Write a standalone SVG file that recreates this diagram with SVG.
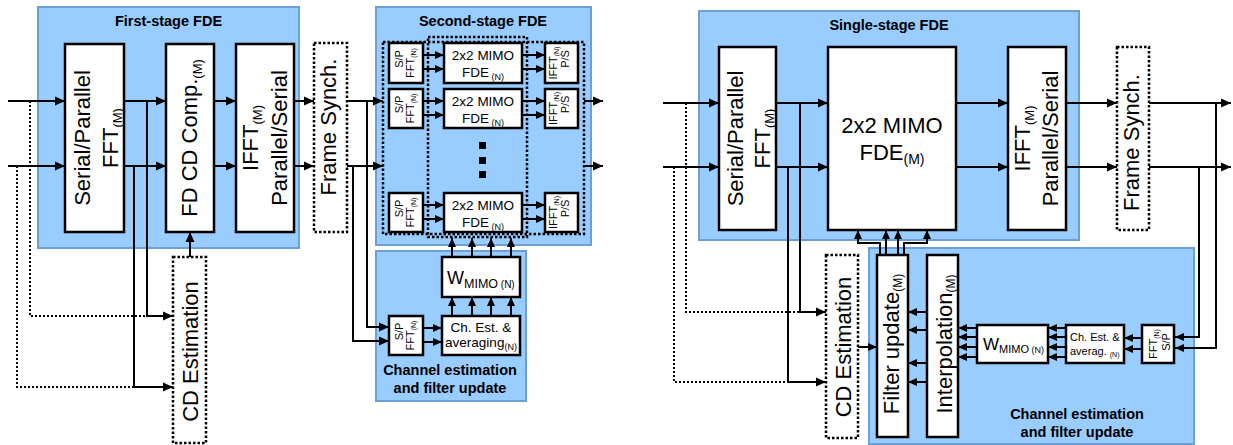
<svg xmlns="http://www.w3.org/2000/svg" width="1233" height="445" viewBox="0 0 1233 445">
<style>
.blue{fill:#99ccff;stroke:#6d9ed6;stroke-width:2}
.box{fill:#fff;stroke:#000;stroke-width:2.5}
.dbox{fill:#fff;stroke:#000;stroke-width:2.5;stroke-dasharray:2.5 2}
.drect{fill:none;stroke:#000;stroke-width:2.5;stroke-dasharray:2.5 2}
.ln{fill:none;stroke:#000;stroke-width:2}
.dl{fill:none;stroke:#000;stroke-width:2;stroke-dasharray:2 2}
.t{font-family:"Liberation Sans",Arial,sans-serif;fill:#000}
.tb{font-family:"Liberation Sans",Arial,sans-serif;font-weight:bold;font-size:14.5px;fill:#000;text-anchor:middle}
.big{font-size:22px;text-anchor:middle}
.sm{font-size:11px;text-anchor:middle}
.md{font-size:13.5px;text-anchor:middle}
</style>
<defs>
<marker id="a" markerWidth="10" markerHeight="10" refX="10" refY="5" orient="auto" markerUnits="userSpaceOnUse"><path d="M0,0.5 L10,5 L0,9.5 z" fill="#000"/></marker>
<marker id="s" markerWidth="9" markerHeight="9" refX="9" refY="4.5" orient="auto" markerUnits="userSpaceOnUse"><path d="M0,0.5 L9,4.5 L0,8.5 z" fill="#000"/></marker>
</defs>

<!-- containers -->
<g id="first-stage-fde">
<rect class="blue" x="38" y="7" width="261" height="241"/>
<text class="tb" x="168.5" y="26">First-stage FDE</text>
</g>
<g id="second-stage-fde">
<rect class="blue" x="376" y="7" width="215" height="238"/>
<text class="tb" x="483" y="26">Second-stage FDE</text>
</g>
<g id="chan-est-left">
<rect class="blue" x="376" y="251" width="150" height="150"/>
<text class="tb" x="450" y="375">Channel estimation</text>
<text class="tb" x="450" y="393">and filter update</text>
</g>
<g id="single-stage-fde">
<rect class="blue" x="699" y="11" width="380" height="229"/>
<text class="tb" x="889" y="30">Single-stage FDE</text>
</g>
<g id="chan-est-right">
<rect class="blue" x="869" y="248" width="325" height="196"/>
<text class="tb" x="1077" y="419">Channel estimation</text>
<text class="tb" x="1077" y="437">and filter update</text>
</g>

<!-- connectors -->
<g id="connectors">
<!-- left figure -->
<path class="dl" d="M30,101 V316 H147"/>
<path class="dl" d="M17,166 V387 H134"/>
<path class="ln" d="M8,101 H65" marker-end="url(#a)"/>
<path class="ln" d="M8,166 H65" marker-end="url(#a)"/>
<path class="ln" d="M124,101 H166" marker-end="url(#a)"/>
<path class="ln" d="M124,166 H166" marker-end="url(#a)"/>
<path class="ln" d="M147,101 V316 H173" marker-end="url(#a)"/>
<path class="ln" d="M134,166 V387 H173" marker-end="url(#a)"/>
<path class="ln" d="M214,101 H236" marker-end="url(#a)"/>
<path class="ln" d="M214,166 H236" marker-end="url(#a)"/>
<path class="ln" d="M294,101 H314" marker-end="url(#a)"/>
<path class="ln" d="M294,166 H314" marker-end="url(#a)"/>
<path class="ln" d="M190,257 V232" marker-end="url(#a)"/>
<path class="ln" d="M347,101 H383" marker-end="url(#a)"/>
<path class="ln" d="M347,166 H383" marker-end="url(#a)"/>
<path class="ln" d="M367,101 V327 H389" marker-end="url(#a)"/>
<path class="ln" d="M353,166 V341 H389" marker-end="url(#a)"/>
<path class="ln" d="M423,55 H444" marker-end="url(#s)"/>
<path class="ln" d="M423,69 H444" marker-end="url(#s)"/>
<path class="ln" d="M423,101 H444" marker-end="url(#s)"/>
<path class="ln" d="M423,115 H444" marker-end="url(#s)"/>
<path class="ln" d="M423,205 H444" marker-end="url(#s)"/>
<path class="ln" d="M423,219 H444" marker-end="url(#s)"/>
<path class="ln" d="M522,55 H545" marker-end="url(#s)"/>
<path class="ln" d="M522,69 H545" marker-end="url(#s)"/>
<path class="ln" d="M522,101 H545" marker-end="url(#s)"/>
<path class="ln" d="M522,115 H545" marker-end="url(#s)"/>
<path class="ln" d="M522,205 H545" marker-end="url(#s)"/>
<path class="ln" d="M522,219 H545" marker-end="url(#s)"/>
<path class="ln" d="M584,101 H603" marker-end="url(#a)"/>
<path class="ln" d="M584,166 H603" marker-end="url(#a)"/>
<path class="ln" d="M452,257 V238" marker-end="url(#s)"/>
<path class="ln" d="M472,257 V238" marker-end="url(#s)"/>
<path class="ln" d="M491,257 V238" marker-end="url(#s)"/>
<path class="ln" d="M511,257 V238" marker-end="url(#s)"/>
<path class="ln" d="M452,316 V297" marker-end="url(#s)"/>
<path class="ln" d="M472,316 V297" marker-end="url(#s)"/>
<path class="ln" d="M491,316 V297" marker-end="url(#s)"/>
<path class="ln" d="M511,316 V297" marker-end="url(#s)"/>
<path class="ln" d="M423,328 H442" marker-end="url(#s)"/>
<path class="ln" d="M423,342 H442" marker-end="url(#s)"/>
<!-- right figure -->
<path class="dl" d="M686,103 V312 H800"/>
<path class="dl" d="M674,167 V382 H788"/>
<path class="ln" d="M663,103 H719" marker-end="url(#a)"/>
<path class="ln" d="M663,167 H719" marker-end="url(#a)"/>
<path class="ln" d="M776,103 H828" marker-end="url(#a)"/>
<path class="ln" d="M776,167 H828" marker-end="url(#a)"/>
<path class="ln" d="M800,103 V312 H826" marker-end="url(#a)"/>
<path class="ln" d="M788,167 V382 H826" marker-end="url(#a)"/>
<path class="ln" d="M956,103 H1008" marker-end="url(#a)"/>
<path class="ln" d="M956,167 H1008" marker-end="url(#a)"/>
<path class="ln" d="M1066,103 H1117" marker-end="url(#a)"/>
<path class="ln" d="M1066,167 H1117" marker-end="url(#a)"/>
<path class="ln" d="M1149,103 H1231" marker-end="url(#a)"/>
<path class="ln" d="M1149,167 H1231" marker-end="url(#a)"/>
<path class="ln" d="M1216,103 V348 H1175" marker-end="url(#s)"/>
<path class="ln" d="M1199,167 V337 H1175" marker-end="url(#s)"/>
<path class="ln" d="M1142,338 H1124" marker-end="url(#s)"/>
<path class="ln" d="M1142,349 H1124" marker-end="url(#s)"/>
<path class="ln" d="M1066,328 H1048" marker-end="url(#s)"/>
<path class="ln" d="M1066,337 H1048" marker-end="url(#s)"/>
<path class="ln" d="M1066,347 H1048" marker-end="url(#s)"/>
<path class="ln" d="M1066,357 H1048" marker-end="url(#s)"/>
<path class="ln" d="M977,328 H958" marker-end="url(#s)"/>
<path class="ln" d="M977,337 H958" marker-end="url(#s)"/>
<path class="ln" d="M977,347 H958" marker-end="url(#s)"/>
<path class="ln" d="M977,357 H958" marker-end="url(#s)"/>
<path class="ln" d="M927,312 H908" marker-end="url(#s)"/>
<path class="ln" d="M927,330 H908" marker-end="url(#s)"/>
<path class="ln" d="M927,363 H908" marker-end="url(#s)"/>
<path class="ln" d="M927,382 H908" marker-end="url(#s)"/>
<path class="ln" d="M858,347 H877" marker-end="url(#s)"/>
<path class="ln" d="M880,255 V243 H858 V230" marker-end="url(#s)"/>
<path class="ln" d="M886,255 V230" marker-end="url(#s)"/>
<path class="ln" d="M898,255 V230" marker-end="url(#s)"/>
<path class="ln" d="M904,255 V243 H927 V230" marker-end="url(#s)"/>
</g>

<!-- left figure nodes -->
<g id="sp-fft-m-left">
<rect class="box" x="65" y="44" width="59" height="188"/>
<text class="t big" transform="translate(94.5,138) rotate(-90)"><tspan x="0" y="-4.5">Serial/Parallel</tspan><tspan x="0" y="23.5">FFT<tspan font-size="13" dy="4">(M)</tspan></tspan></text>
</g>
<g id="fd-cd-comp">
<rect class="box" x="166" y="44" width="48" height="188"/>
<text class="t big" transform="translate(190,138) rotate(-90)" x="0" y="7">FD CD Comp.<tspan font-size="13" dy="5">(M)</tspan></text>
</g>
<g id="ifft-ps-left">
<rect class="box" x="236" y="44" width="58" height="188"/>
<text class="t big" transform="translate(265,138) rotate(-90)"><tspan x="0" y="-7">IFFT<tspan font-size="13" dy="4">(M)</tspan></tspan><tspan x="0" y="22">Parallel/Serial</tspan></text>
</g>
<g id="frame-synch-left">
<rect class="dbox" x="314" y="43" width="33" height="189"/>
<text class="t big" font-size="24" transform="translate(330.5,127) rotate(-90)" x="0" y="5.5">Frame Synch.</text>
</g>
<g id="cd-est-left">
<rect class="dbox" x="173" y="257" width="33" height="186"/>
<text class="t big" transform="translate(189.5,351.5) rotate(-90)" x="0" y="8.5">CD Estimation</text>
</g>

<g id="second-stage-dotted">
<rect class="drect" x="383" y="42" width="201" height="192"/>
<rect class="drect" x="428" y="37" width="99" height="200"/>
</g>
<g id="sp-fft-n-1">
<rect class="box" x="389" y="43" width="34" height="40"/>
<text class="t sm" transform="translate(406,63) rotate(-90)"><tspan x="4" y="-3.5">S/P</tspan><tspan x="0" y="8">FFT<tspan font-size="7" dy="2">(N)</tspan></tspan></text>
</g>
<g id="sp-fft-n-2">
<rect class="box" x="389" y="89" width="34" height="39"/>
<text class="t sm" transform="translate(406,108.5) rotate(-90)"><tspan x="4" y="-3.5">S/P</tspan><tspan x="0" y="8">FFT<tspan font-size="7" dy="2">(N)</tspan></tspan></text>
</g>
<g id="sp-fft-n-3">
<rect class="box" x="389" y="193" width="34" height="39"/>
<text class="t sm" transform="translate(406,212.5) rotate(-90)"><tspan x="4" y="-3.5">S/P</tspan><tspan x="0" y="8">FFT<tspan font-size="7" dy="2">(N)</tspan></tspan></text>
</g>
<g id="mimo-fde-n-1">
<rect class="box" x="444" y="43" width="78" height="40"/>
<text class="t md" x="483" y="60">2x2 MIMO</text>
<text class="t md" x="483" y="77">FDE<tspan font-size="9" dy="3"> (N)</tspan></text>
</g>
<g id="mimo-fde-n-2">
<rect class="box" x="444" y="89" width="78" height="39"/>
<text class="t md" x="483" y="106">2x2 MIMO</text>
<text class="t md" x="483" y="123">FDE<tspan font-size="9" dy="3"> (N)</tspan></text>
</g>
<g id="mimo-fde-n-3">
<rect class="box" x="444" y="193" width="78" height="39"/>
<text class="t md" x="483" y="210">2x2 MIMO</text>
<text class="t md" x="483" y="227">FDE<tspan font-size="9" dy="3"> (N)</tspan></text>
</g>
<g id="ifft-ps-n-1">
<rect class="box" x="545" y="43" width="33" height="40"/>
<text class="t sm" transform="translate(561.5,63) rotate(-90)"><tspan x="0" y="-4.5">IFFT<tspan font-size="7" dy="2">(N)</tspan></tspan><tspan x="4" dy="9.5">P/S</tspan></text>
</g>
<g id="ifft-ps-n-2">
<rect class="box" x="545" y="89" width="33" height="39"/>
<text class="t sm" transform="translate(561.5,108.5) rotate(-90)"><tspan x="0" y="-4.5">IFFT<tspan font-size="7" dy="2">(N)</tspan></tspan><tspan x="4" dy="9.5">P/S</tspan></text>
</g>
<g id="ifft-ps-n-3">
<rect class="box" x="545" y="193" width="33" height="39"/>
<text class="t sm" transform="translate(561.5,212.5) rotate(-90)"><tspan x="0" y="-4.5">IFFT<tspan font-size="7" dy="2">(N)</tspan></tspan><tspan x="4" dy="9.5">P/S</tspan></text>
</g>
<g id="ellipsis">
<rect x="479" y="142" width="7" height="7" fill="#000"/>
<rect x="479" y="157" width="7" height="7" fill="#000"/>
<rect x="479" y="171" width="7" height="7" fill="#000"/>
</g>
<g id="w-mimo-left">
<rect class="box" x="442" y="257" width="78" height="40"/>
<text class="t" x="447" y="284" font-size="18">W<tspan font-size="12.5" dy="4">MIMO</tspan><tspan font-size="10"> (N)</tspan></text>
</g>
<g id="ch-est-left">
<rect class="box" x="442" y="316" width="78" height="39"/>
<text class="t md" x="481" y="332">Ch. Est. &amp;</text>
<text class="t md" x="481" y="347">averaging<tspan font-size="9" dy="3">(N)</tspan></text>
</g>
<g id="sp-fft-n-ce">
<rect class="box" x="389" y="316" width="34" height="39"/>
<text class="t sm" transform="translate(406,335.5) rotate(-90)"><tspan x="4" y="-3.5">S/P</tspan><tspan x="0" y="8">FFT<tspan font-size="7" dy="2">(N)</tspan></tspan></text>
</g>

<!-- right figure nodes -->
<g id="sp-fft-m-right">
<rect class="box" x="719" y="47" width="57" height="183"/>
<text class="t big" transform="translate(747.5,138.5) rotate(-90)"><tspan x="0" y="-4.5">Serial/Parallel</tspan><tspan x="0" y="22.5">FFT<tspan font-size="13" dy="4">(M)</tspan></tspan></text>
</g>
<g id="mimo-fde-m">
<rect class="box" x="828" y="47" width="128" height="183"/>
<text class="t big" x="892" y="133">2x2 MIMO</text>
<text class="t big" x="892" y="160">FDE<tspan font-size="14" dy="4">(M)</tspan></text>
</g>
<g id="ifft-ps-right">
<rect class="box" x="1008" y="47" width="58" height="183"/>
<text class="t big" transform="translate(1037,138.5) rotate(-90)"><tspan x="0" y="-7">IFFT<tspan font-size="13" dy="4">(M)</tspan></tspan><tspan x="0" y="21">Parallel/Serial</tspan></text>
</g>
<g id="frame-synch-right">
<rect class="dbox" x="1117" y="47" width="32" height="183"/>
<text class="t big" font-size="20" transform="translate(1133,142.5) rotate(-90)" x="0" y="6">Frame Synch.</text>
</g>
<g id="cd-est-right">
<rect class="dbox" x="826" y="255" width="32" height="183"/>
<text class="t big" transform="translate(842,347) rotate(-90)" x="0" y="9">CD Estimation</text>
</g>
<g id="filter-update">
<rect class="box" x="877" y="255" width="31" height="182"/>
<text class="t big" transform="translate(892.5,344) rotate(-90)" x="0" y="6.5">Filter update<tspan font-size="12" dy="3">(M)</tspan></text>
</g>
<g id="interpolation">
<rect class="box" x="927" y="255" width="31" height="182"/>
<text class="t big" transform="translate(942.5,344) rotate(-90)" x="0" y="9.5">Interpolation<tspan font-size="12" dy="3">(M)</tspan></text>
</g>
<g id="w-mimo-right">
<rect class="box" x="977" y="325" width="71" height="38"/>
<text class="t" x="983" y="350" font-size="17">W<tspan font-size="11" dy="3">MIMO</tspan><tspan font-size="9"> (N)</tspan></text>
</g>
<g id="ch-est-right">
<rect class="box" x="1066" y="325" width="58" height="38"/>
<text class="t" x="1070" y="341" font-size="11">Ch. Est. &amp;</text>
<text class="t" x="1070" y="355" font-size="11">averag. <tspan font-size="7" dy="2">(N)</tspan></text>
</g>
<g id="fft-sp-right">
<rect class="box" x="1142" y="325" width="32" height="38"/>
<text class="t sm" transform="translate(1158,344) rotate(-90)"><tspan x="0" y="-1">FFT<tspan font-size="7" dy="2">(N)</tspan></tspan><tspan x="2" y="12">S/P</tspan></text>
</g>
</svg>
